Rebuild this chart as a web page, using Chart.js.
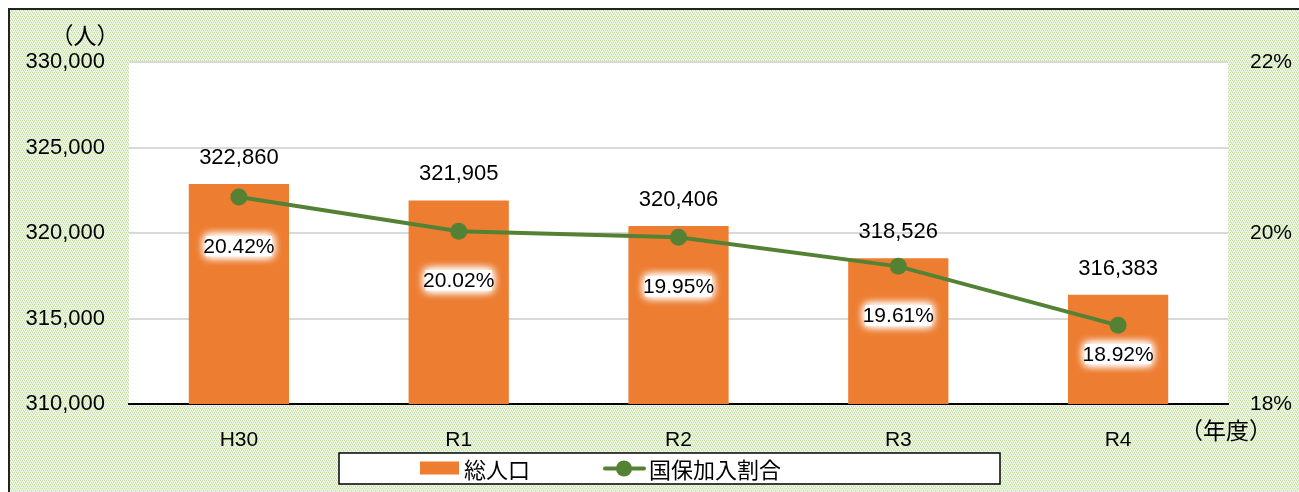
<!DOCTYPE html>
<html><head><meta charset="utf-8">
<script src="https://cdn.jsdelivr.net/npm/chart.js@4.4.1/dist/chart.umd.min.js"></script>
<style>html,body{margin:0;padding:0;background:#fff}#wrap{width:1299px;height:492px;position:relative}</style>
</head><body><div id="wrap"><canvas id="c" width="1299" height="492"></canvas></div>
<script>
const categories = ['H30', 'R1', 'R2', 'R3', 'R4'];
const population = [322860, 321905, 320406, 318526, 316383];
const ratio = [20.42, 20.02, 19.95, 19.61, 18.92];
const popTicks = [310000, 315000, 320000, 325000, 330000];
const ratioTicks = [18, 20, 22];
const seriesNames = ['総人口', '国保加入割合'];
const yUnit = '（人）';
const xUnit = '（年度）';

const ORANGE = '#ED7D31';
const GREEN = '#548235';
const FONT = '"Liberation Sans", Arial, sans-serif';
const CJK = '"Noto Sans CJK JP", sans-serif';

function makePattern(ctx) {
  const p = document.createElement('canvas');
  p.width = 4; p.height = 4;
  const g = p.getContext('2d');
  g.fillStyle = '#f1f8e9'; g.fillRect(0, 0, 4, 4);
  g.fillStyle = '#c4e29f';
  [[0,0],[2,0],[1,2],[3,2]].forEach(([x,y]) => g.fillRect(x, y, 1, 1));
  g.fillStyle = '#dcedc6';
  [[1,1],[3,3],[0,3],[2,1]].forEach(([x,y]) => g.fillRect(x, y, 1, 1));
  return ctx.createPattern(p, 'repeat');
}

const bgPlugin = {
  id: 'bg',
  beforeDraw(chart) {
    const {ctx, chartArea: a, width, height} = chart;
    ctx.save();
    ctx.fillStyle = '#fff'; ctx.fillRect(0, 0, width, height);
    ctx.fillStyle = makePattern(ctx); ctx.fillRect(9, 9, width - 9, height - 9);
    ctx.strokeStyle = '#222'; ctx.lineWidth = 2;
    ctx.beginPath(); ctx.moveTo(9, height); ctx.lineTo(9, 9); ctx.lineTo(width, 9); ctx.stroke();
    ctx.fillStyle = '#fff'; ctx.fillRect(a.left, a.top, a.right - a.left, a.bottom - a.top);
    ctx.fillStyle = '#000'; ctx.font = '23px ' + CJK; ctx.textAlign = 'center'; ctx.textBaseline = 'middle';
    ctx.fillText(yUnit, a.left - 44, a.top - 27);
    ctx.fillText(xUnit, a.right - 2, a.bottom + 26);
    ctx.restore();
  }
};

const labelPlugin = {
  id: 'labels',
  afterDatasetsDraw(chart) {
    const {ctx, chartArea: a} = chart;
    const bars = chart.getDatasetMeta(0).data;
    const pts = chart.getDatasetMeta(1).data;
    ctx.save();
    ctx.textAlign = 'center'; ctx.textBaseline = 'middle';
    ctx.font = '22px ' + FONT; ctx.fillStyle = '#000';
    bars.forEach((b, i) => {
      ctx.fillText(population[i].toLocaleString('en-US'), b.x, b.y - 26);
    });
    pts.forEach((p, i) => {
      const y = Math.min(p.y + 49, a.bottom - 50);
      const txt = ratio[i].toFixed(2) + '%';
      const w = 66, h = 20;
      ctx.save();
      ctx.shadowColor = '#fff'; ctx.shadowBlur = 10;
      ctx.fillStyle = 'rgba(255,255,255,1)';
      for (let k = 0; k < 3; k++) ctx.fillRect(p.x - w / 2, y - h / 2, w, h);
      ctx.restore();
      ctx.fillStyle = '#000'; ctx.font = '21px ' + FONT;
      ctx.fillText(txt, p.x, y + 1);
    });
    const lx = 339, ly = 453, lw = 661, lh = 31;
    ctx.fillStyle = '#fff'; ctx.fillRect(lx, ly, lw, lh);
    ctx.strokeStyle = '#000'; ctx.lineWidth = 1.5; ctx.strokeRect(lx, ly, lw, lh);
    const cy = ly + lh / 2;
    ctx.fillStyle = ORANGE; ctx.fillRect(420, cy - 7, 39, 13);
    ctx.strokeStyle = GREEN; ctx.lineWidth = 4; ctx.lineCap = 'round';
    ctx.beginPath(); ctx.moveTo(605, cy); ctx.lineTo(644, cy); ctx.stroke();
    ctx.fillStyle = GREEN; ctx.beginPath(); ctx.arc(624, cy, 8, 0, Math.PI * 2); ctx.fill();
    ctx.fillStyle = '#000'; ctx.font = '22px ' + CJK; ctx.textAlign = 'left';
    ctx.fillText(seriesNames[0], 464, cy + 1);
    ctx.fillText(seriesNames[1], 649, cy + 1);
    ctx.restore();
  }
};

new Chart(document.getElementById('c'), {
  data: {
    labels: categories,
    datasets: [
      { type: 'bar', label: seriesNames[0], data: population, backgroundColor: ORANGE, yAxisID: 'y',
        categoryPercentage: 1, barPercentage: 0.456, order: 2 },
      { type: 'line', label: seriesNames[1], data: ratio, yAxisID: 'y2', borderColor: GREEN, backgroundColor: GREEN,
        borderWidth: 4, pointRadius: 8.5, pointBackgroundColor: GREEN, pointBorderWidth: 0, tension: 0, order: 1 }
    ]
  },
  options: {
    responsive: false, animation: false,
    layout: { padding: { top: 62, left: 0, right: 0, bottom: 0 } },
    plugins: { legend: { display: false }, tooltip: { enabled: false } },
    scales: {
      x: {
        grid: { display: false },
        border: { display: true, color: '#000', width: 2 },
        ticks: { color: '#000', font: { family: FONT, size: 21 }, padding: 16, maxRotation: 0 },
        afterFit(s) { s.height = 88; }
      },
      y: {
        position: 'left', min: popTicks[0], max: popTicks[popTicks.length - 1],
        afterBuildTicks(s) { s.ticks = popTicks.map(v => ({ value: v })); },
        grid: { color: '#d9d9d9', lineWidth: 2, drawTicks: false },
        border: { display: false },
        ticks: { color: '#000', font: { family: FONT, size: 22 }, padding: 24,
          callback: v => v.toLocaleString('en-US') },
        afterFit(s) { s.width = 129; }
      },
      y2: {
        position: 'right', min: ratioTicks[0], max: ratioTicks[ratioTicks.length - 1],
        afterBuildTicks(s) { s.ticks = ratioTicks.map(v => ({ value: v })); },
        grid: { display: false, drawTicks: false },
        border: { display: false },
        ticks: { color: '#000', font: { family: FONT, size: 21 }, padding: 22, callback: v => v + '%' },
        afterFit(s) { s.width = 71; }
      }
    }
  },
  plugins: [bgPlugin, labelPlugin]
});
</script>
</body></html>
